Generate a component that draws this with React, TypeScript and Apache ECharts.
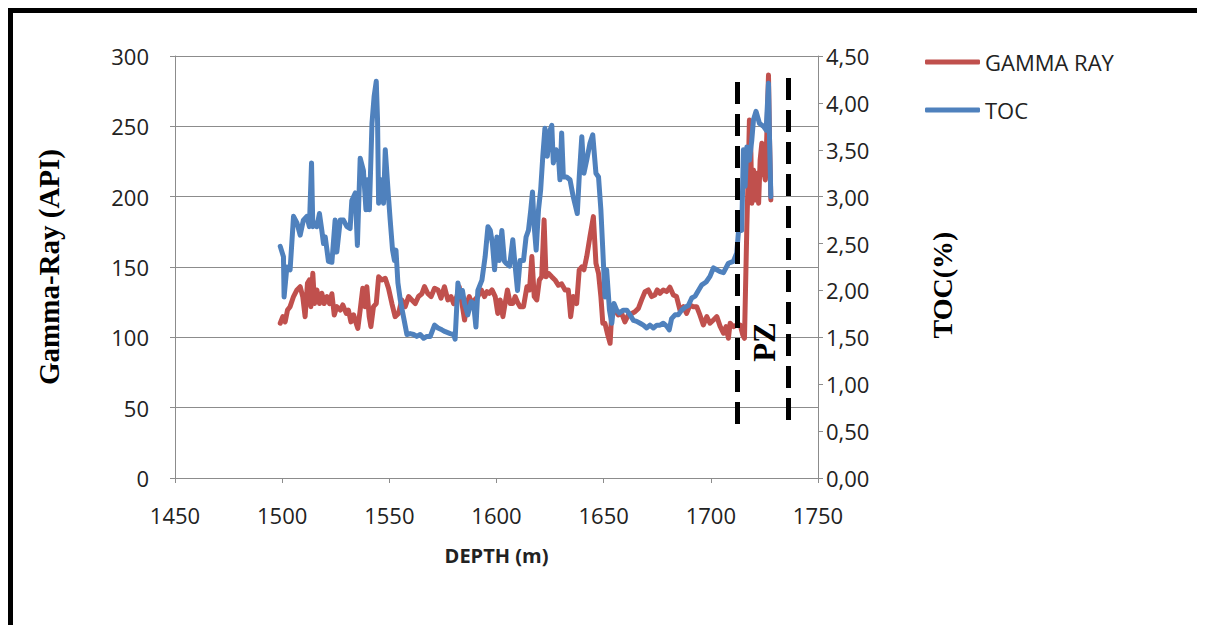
import React, { useEffect, useRef } from "react";
import * as echarts from "echarts";

// Depth (m) and Gamma-Ray (API) readings
const grDepth = [1499.1,1500.3,1501.4,1502.5,1503.7,1505.3,1506.9,1508.4,1509.6,1510.7,1511.8,1512.7,1513.4,1514.3,1515.1,1516.2,1517.4,1518.5,1519.6,1520.9,1522.1,1523.2,1524.3,1525.5,1527.1,1528.3,1529.9,1530.9,1532.1,1533.3,1534.5,1535.3,1536.4,1537.6,1538.7,1539.5,1540.6,1541.4,1542.6,1543.9,1545.0,1546.5,1548.1,1549.6,1551.2,1552.7,1554.3,1555.8,1557.4,1559.0,1560.5,1562.1,1563.6,1565.2,1566.4,1568.0,1569.5,1571.1,1572.7,1574.1,1575.7,1577.3,1578.8,1580.0,1581.5,1582.6,1583.9,1585.1,1586.2,1587.3,1588.5,1589.8,1591.3,1592.9,1594.4,1595.6,1596.6,1597.9,1599.4,1600.6,1601.7,1603.0,1604.0,1605.1,1606.4,1607.6,1608.7,1609.8,1611.0,1612.6,1614.2,1615.4,1616.5,1617.6,1618.8,1620.0,1621.1,1622.2,1623.1,1624.2,1625.8,1627.3,1628.9,1630.4,1632.0,1633.5,1634.6,1635.8,1637.4,1638.6,1639.8,1640.8,1642.1,1643.6,1645.2,1646.4,1647.6,1648.7,1649.6,1650.6,1651.7,1653.0,1653.8,1655.3,1656.8,1658.4,1659.9,1661.5,1663.1,1664.6,1666.2,1667.7,1669.3,1670.8,1672.4,1673.9,1675.0,1676.3,1677.8,1679.4,1680.9,1682.5,1684.0,1685.6,1687.2,1688.7,1690.3,1691.8,1693.4,1694.9,1696.5,1698.1,1699.6,1701.2,1702.8,1704.3,1705.9,1707.1,1708.2,1709.0,1710.5,1712.1,1713.7,1714.9,1715.7,1716.8,1717.6,1718.0,1718.7,1719.1,1719.9,1720.7,1721.5,1722.3,1723.0,1723.8,1724.6,1725.4,1726.1,1726.9,1727.4,1728.0];
const grValues = [110,114.7,111,119.4,121.8,129,133.7,136,129,114.7,138.4,140.8,121.8,145.5,124,133.7,124,131.3,124,129,124,131,115.9,121.8,119.4,123,117,119.4,111,116,110,106.4,119.4,134.9,121.8,136,114.7,107.6,121.8,124,143,140.8,142,135,124,114.7,117,126.6,121.8,129,126.6,124,129,131,136,131,129,134.9,133.7,127.8,136,126.6,129,124,129,136,124,112.3,124,129,124,126.6,129,133.7,129,132.5,131.3,133.7,129,117,126.6,114.7,124,133.7,124,124,129,125,121.8,121.8,136,133.7,157.4,129,126.6,140.8,143,183.5,143,145.5,143,140.8,137,138,133.7,133.7,114.7,129,124,148,150,148,157.4,171.6,185.8,152.6,145.5,129,110,110,102.9,95.8,118,119.4,115.9,117,111,115.9,117,118.2,120.6,126.6,132.5,133.7,129,130.1,133.7,131.3,133.7,132.5,135.6,130.1,129,119.4,121.8,117,122.9,121.8,121.8,115.9,108.8,114.7,110,112.3,114.7,108,102.9,107.6,99.3,110,107.6,108.8,108.8,101.7,99.3,178.7,226,254.5,230.8,195.3,219,197.7,216.6,195.3,226,238,219,211.9,242.7,286.5,240,197.7];

// Depth (m) and TOC (%) readings
const tocDepth = [1499.1,1500.6,1500.9,1502.2,1503.7,1505.3,1506.9,1508.4,1509.9,1511.5,1512.7,1513.7,1514.3,1515.4,1516.2,1517.4,1518.5,1519.3,1520.1,1521.6,1523.2,1524.7,1525.5,1527.1,1528.6,1530.2,1531.7,1532.5,1534.1,1535.1,1536.4,1537.9,1539.1,1539.8,1540.7,1541.9,1542.9,1543.9,1544.5,1545.0,1546.1,1547.3,1548.1,1549.6,1550.4,1551.5,1552.4,1553.1,1554.0,1555.1,1556.6,1558.2,1559.7,1561.3,1562.8,1564.4,1566.0,1567.5,1569.1,1571.1,1572.7,1574.5,1576.1,1578.4,1580.0,1580.7,1582.0,1583.1,1584.1,1585.1,1586.6,1588.2,1589.3,1590.4,1591.3,1593.2,1594.7,1596.0,1597.1,1598.1,1599.1,1600.2,1601.3,1602.5,1603.7,1604.5,1606.1,1607.6,1608.7,1609.8,1611.0,1612.6,1613.8,1614.9,1616.0,1616.8,1617.6,1618.5,1619.6,1620.6,1621.6,1622.6,1623.7,1625.0,1625.8,1626.5,1627.8,1628.9,1629.6,1630.4,1631.2,1632.7,1634.3,1635.8,1637.7,1638.6,1639.8,1640.8,1642.1,1643.6,1644.9,1646.4,1647.6,1648.7,1649.6,1650.6,1651.4,1652.7,1653.8,1654.8,1656.1,1657.3,1659.2,1660.8,1662.3,1663.9,1665.4,1667.0,1668.5,1670.1,1671.6,1673.2,1674.8,1676.3,1677.8,1679.4,1680.6,1681.7,1683.3,1684.8,1686.4,1687.9,1689.5,1691.1,1692.7,1694.2,1695.8,1697.8,1699.6,1701.2,1702.8,1704.3,1705.9,1708.2,1710.5,1712.1,1713.3,1714.4,1715.2,1716.0,1716.8,1718.0,1719.1,1719.9,1721.1,1722.7,1724.6,1725.8,1726.9,1727.4,1728.0];
const tocValues = [2.47,2.36,1.93,2.25,2.22,2.79,2.72,2.59,2.75,2.79,2.68,3.36,2.68,2.72,2.68,2.82,2.64,2.50,2.57,2.31,2.30,2.75,2.41,2.75,2.75,2.68,2.66,2.96,3.04,2.48,3.41,3.28,2.86,3.18,2.86,3.78,4.07,4.23,3.82,2.93,3.18,2.93,3.50,3.00,2.75,2.43,2.32,2.43,2.08,1.90,1.72,1.53,1.54,1.53,1.51,1.53,1.49,1.51,1.51,1.63,1.60,1.58,1.56,1.54,1.53,1.48,2.08,1.93,2.00,1.86,1.74,1.88,1.86,1.61,2.00,2.11,2.36,2.68,2.64,2.50,2.22,2.57,2.32,2.64,2.31,2.29,2.26,2.54,2.26,2.00,2.32,2.32,2.57,2.64,2.86,3.05,2.68,2.43,2.86,3.07,3.43,3.73,3.43,3.71,3.76,3.36,3.50,3.43,3.18,3.68,3.21,3.21,3.18,3.00,2.82,3.21,3.64,3.25,3.39,3.57,3.66,3.25,3.21,2.86,2.43,1.93,2.22,1.79,1.65,1.86,1.79,1.76,1.79,1.79,1.74,1.68,1.67,1.65,1.63,1.60,1.63,1.60,1.63,1.63,1.65,1.62,1.58,1.70,1.74,1.74,1.79,1.82,1.84,1.92,1.94,2.00,2.06,2.09,2.15,2.24,2.22,2.20,2.19,2.29,2.31,2.40,2.75,2.64,3.50,3.11,3.53,3.39,3.60,3.82,3.91,3.78,3.75,3.71,4.21,3.60,3.00];

// Productive zone (PZ) boundaries: [depth, top GR, bottom GR]
const pzLeft = [1712.2, 281.6, 34.1];
const pzRight = [1736.0, 284.4, 37.7];

const xTicks = { min: 1450, max: 1750, interval: 50 };
const grTicks = { min: 0, max: 300, interval: 50 };
const tocTicks = { min: 0, max: 4.5, interval: 0.5 };

const RED = "#C0504D";
const BLUE = "#4F81BD";
const GRID = "#8c8c8c";
const SANS = "'Open Sans', sans-serif";
const SERIF = "'Liberation Serif', 'Times New Roman', serif";

export default function App() {
  const ref = useRef<HTMLDivElement>(null);
  useEffect(() => {
    if (!ref.current) return;
    const chart = echarts.init(ref.current, null, { renderer: "svg" });
    const grData = grDepth.map((d, i) => [d, grValues[i]]);
    const tocData = tocDepth.map((d, i) => [d, tocValues[i]]);
    const axisCommon = {
      axisLine: { show: true, lineStyle: { color: GRID, width: 1 } },
      axisTick: { show: true, length: 5, lineStyle: { color: GRID } },
    };
    chart.setOption({
      animation: false,
      backgroundColor: "#fff",
      grid: { left: 175, right: 387, top: 56, bottom: 147, containLabel: false },
      legend: {
        data: ["GAMMA RAY", "TOC"],
        orient: "vertical",
        left: 925,
        top: 50,
        itemWidth: 55,
        itemHeight: 5,
        itemGap: 24,
        icon: "roundRect",
        padding: 0,
        textStyle: { fontSize: 22, fontFamily: SANS, color: "#222", lineHeight: 24 },
      },
      xAxis: {
        type: "value",
        ...xTicks,
        name: "DEPTH (m)",
        nameLocation: "middle",
        nameGap: 67,
        nameTextStyle: { fontSize: 20, fontWeight: "bold", fontFamily: SANS, color: "#222" },
        ...axisCommon,
        splitLine: { show: false },
        axisLabel: {
          fontSize: 22,
          fontFamily: SANS,
          color: "#222",
          margin: 26,
          formatter: (v: number) => String(v),
        },
      },
      yAxis: [
        {
          type: "value",
          ...grTicks,
          position: "left",
          name: "Gamma-Ray (API)",
          nameLocation: "middle",
          nameGap: 112,
          nameRotate: 90,
          nameTextStyle: { fontSize: 29, fontWeight: "bold", fontFamily: SERIF, color: "#000" },
          ...axisCommon,
          splitLine: { show: true, lineStyle: { color: GRID, width: 1 } },
          axisLabel: { fontSize: 22, fontFamily: SANS, color: "#222", margin: 26 },
        },
        {
          type: "value",
          ...tocTicks,
          position: "right",
          name: "TOC(%)",
          nameLocation: "middle",
          nameGap: 110,
          nameRotate: 90,
          nameTextStyle: {
            fontSize: 28,
            fontWeight: "bold",
            fontFamily: SERIF,
            color: "#000",
            padding: [0, 36, 0, 0],
          },
          ...axisCommon,
          splitLine: { show: false },
          axisLabel: {
            fontSize: 22,
            fontFamily: SANS,
            color: "#222",
            margin: 8,
            formatter: (v: number) => v.toFixed(2).replace(".", ","),
          },
        },
      ],
      series: [
        {
          name: "GAMMA RAY",
          type: "line",
          yAxisIndex: 0,
          data: grData,
          showSymbol: false,
          symbol: "none",
          color: RED,
          lineStyle: { color: RED, width: 5, join: "round", cap: "round" },
          z: 3,
          markLine: {
            silent: true,
            symbol: "none",
            label: { show: false },
            lineStyle: { color: "#000", width: 5, type: [22, 10] },
            data: [
              [{ coord: [pzLeft[0], pzLeft[1]] }, { coord: [pzLeft[0], pzLeft[2]] }],
              [{ coord: [pzRight[0], pzRight[1]] }, { coord: [pzRight[0], pzRight[2]] }],
            ],
          },
        },
        {
          name: "TOC",
          type: "line",
          yAxisIndex: 1,
          data: tocData,
          showSymbol: false,
          symbol: "none",
          color: BLUE,
          lineStyle: { color: BLUE, width: 5, join: "round", cap: "round" },
          z: 4,
        },
      ],
      graphic: [
        { type: "rect", left: 8, top: 8, shape: { width: 1189, height: 5 }, style: { fill: "#000" } },
        { type: "rect", left: 8, top: 8, shape: { width: 5, height: 617 }, style: { fill: "#000" } },
        {
          type: "text",
          x: 764,
          y: 342,
          rotation: Math.PI / 2,
          style: {
            text: "PZ",
            font: `bold 31px ${SERIF}`,
            fill: "#000",
            align: "center",
            verticalAlign: "middle",
          },
          z: 10,
        },
      ],
    });
    return () => chart.dispose();
  }, []);
  return (
    <div
      ref={ref}
      style={{ position: "fixed", left: 0, top: 0, width: 1205, height: 625, background: "#fff" }}
    />
  );
}
